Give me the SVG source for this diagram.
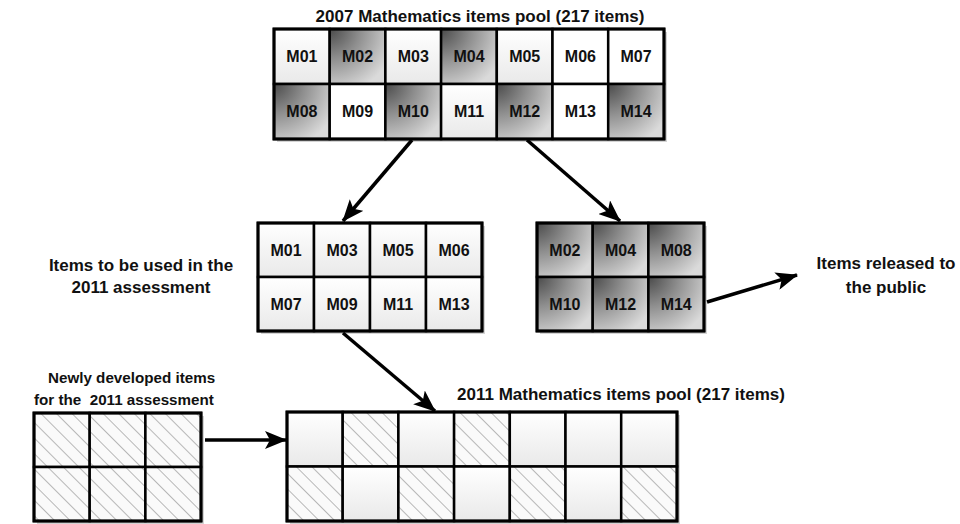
<svg xmlns="http://www.w3.org/2000/svg" width="960" height="524" viewBox="0 0 960 524">
  <style>
    .lbl { font-family: "Liberation Sans", Arial, sans-serif; font-weight: bold; font-size: 17px; fill: #111; }
    .lbl-sm { font-family: "Liberation Sans", Arial, sans-serif; font-weight: bold; font-size: 15.2px; fill: #111; }
    .cell-txt { font-family: "Liberation Sans", Arial, sans-serif; font-weight: bold; font-size: 16px; fill: #111; text-anchor: middle; }
    .cell { stroke: #000; stroke-width: 2.5; }
    .frame { fill: none; stroke: #000; stroke-width: 3; }
    .shadow { fill: #d4d4d4; }
    .light { fill: url(#gLight); }
    .white { fill: #fff; }
    .dark { fill: url(#gDark); }
    .hatch { fill: url(#pHatch); }
    .conn { stroke: #000; stroke-width: 3.5; fill: none; marker-end: url(#arrow); }
  </style>
  <defs>
    <linearGradient id="gLight" x1="0" y1="0" x2="0" y2="1">
      <stop offset="0" stop-color="#ffffff"/>
      <stop offset="1" stop-color="#e9e9e9"/>
    </linearGradient>
    <radialGradient id="gDark" cx="0" cy="0" r="1.2" fx="0" fy="0">
      <stop offset="0" stop-color="#4a4a4a"/>
      <stop offset="0.45" stop-color="#8e8e8e"/>
      <stop offset="1" stop-color="#dadada"/>
    </radialGradient>
    <pattern id="pHatch" width="11" height="11" patternUnits="userSpaceOnUse" patternTransform="rotate(-45)">
      <rect width="11" height="11" fill="#fafafa"/>
      <line x1="0" y1="0" x2="0" y2="11" stroke="#9a9a9a" stroke-width="1.4"/>
    </pattern>
    <marker id="arrow" markerUnits="userSpaceOnUse" markerWidth="22" markerHeight="18" viewBox="0 0 22 18" refX="21" refY="9" orient="auto">
      <path d="M0,0 L22,9 L0,18 L5,9 Z" fill="#000"/>
    </marker>
  </defs>

  <rect width="960" height="524" fill="#fff"/>

  <!-- 2007 item pool -->
  <g id="pool2007">
    <rect class="shadow" x="277" y="32" width="390" height="110"/>
    <rect class="cell light" x="274" y="29" width="55.7" height="55"/>
    <rect class="cell dark" x="329.7" y="29" width="55.7" height="55"/>
    <rect class="cell light" x="385.4" y="29" width="55.7" height="55"/>
    <rect class="cell dark" x="441.1" y="29" width="55.7" height="55"/>
    <rect class="cell light" x="496.8" y="29" width="55.7" height="55"/>
    <rect class="cell white" x="552.5" y="29" width="55.7" height="55"/>
    <rect class="cell white" x="608.2" y="29" width="55.8" height="55"/>
    <rect class="cell dark" x="274" y="84" width="55.7" height="55"/>
    <rect class="cell white" x="329.7" y="84" width="55.7" height="55"/>
    <rect class="cell dark" x="385.4" y="84" width="55.7" height="55"/>
    <rect class="cell light" x="441.1" y="84" width="55.7" height="55"/>
    <rect class="cell dark" x="496.8" y="84" width="55.7" height="55"/>
    <rect class="cell white" x="552.5" y="84" width="55.7" height="55"/>
    <rect class="cell dark" x="608.2" y="84" width="55.8" height="55"/>
    <rect class="frame" x="274" y="29" width="390" height="110"/>
    <text class="cell-txt" x="301.9" y="62">M01</text>
    <text class="cell-txt" x="357.6" y="62">M02</text>
    <text class="cell-txt" x="413.3" y="62">M03</text>
    <text class="cell-txt" x="469" y="62">M04</text>
    <text class="cell-txt" x="524.7" y="62">M05</text>
    <text class="cell-txt" x="580.4" y="62">M06</text>
    <text class="cell-txt" x="636.1" y="62">M07</text>
    <text class="cell-txt" x="301.9" y="117">M08</text>
    <text class="cell-txt" x="357.6" y="117">M09</text>
    <text class="cell-txt" x="413.3" y="117">M10</text>
    <text class="cell-txt" x="469" y="117">M11</text>
    <text class="cell-txt" x="524.7" y="117">M12</text>
    <text class="cell-txt" x="580.4" y="117">M13</text>
    <text class="cell-txt" x="636.1" y="117">M14</text>
  </g>
  <g id="title2007">
    <text class="lbl" x="480" y="22" text-anchor="middle">2007 Mathematics items pool (217 items)</text>
  </g>

  <!-- items kept for 2011 -->
  <g id="kept">
    <rect class="shadow" x="261" y="226" width="224" height="108"/>
    <rect class="cell light" x="258" y="223" width="56" height="54"/>
    <rect class="cell light" x="314" y="223" width="56" height="54"/>
    <rect class="cell light" x="370" y="223" width="56" height="54"/>
    <rect class="cell light" x="426" y="223" width="56" height="54"/>
    <rect class="cell light" x="258" y="277" width="56" height="54"/>
    <rect class="cell light" x="314" y="277" width="56" height="54"/>
    <rect class="cell light" x="370" y="277" width="56" height="54"/>
    <rect class="cell light" x="426" y="277" width="56" height="54"/>
    <rect class="frame" x="258" y="223" width="224" height="108"/>
    <text class="cell-txt" x="286" y="255.5">M01</text>
    <text class="cell-txt" x="342" y="255.5">M03</text>
    <text class="cell-txt" x="398" y="255.5">M05</text>
    <text class="cell-txt" x="454" y="255.5">M06</text>
    <text class="cell-txt" x="286" y="309.5">M07</text>
    <text class="cell-txt" x="342" y="309.5">M09</text>
    <text class="cell-txt" x="398" y="309.5">M11</text>
    <text class="cell-txt" x="454" y="309.5">M13</text>
  </g>
  <g id="keptLabel">
    <text class="lbl" x="141" y="271" text-anchor="middle">Items to be used in the</text>
    <text class="lbl" x="141" y="293" text-anchor="middle">2011 assessment</text>
  </g>

  <!-- released items -->
  <g id="released">
    <rect class="shadow" x="540" y="226" width="167" height="108"/>
    <rect class="cell dark" x="537" y="223" width="55.7" height="54"/>
    <rect class="cell dark" x="592.7" y="223" width="55.7" height="54"/>
    <rect class="cell dark" x="648.4" y="223" width="55.6" height="54"/>
    <rect class="cell dark" x="537" y="277" width="55.7" height="54"/>
    <rect class="cell dark" x="592.7" y="277" width="55.7" height="54"/>
    <rect class="cell dark" x="648.4" y="277" width="55.6" height="54"/>
    <rect class="frame" x="537" y="223" width="167" height="108"/>
    <text class="cell-txt" x="564.9" y="255.5">M02</text>
    <text class="cell-txt" x="620.6" y="255.5">M04</text>
    <text class="cell-txt" x="676.2" y="255.5">M08</text>
    <text class="cell-txt" x="564.9" y="309.5">M10</text>
    <text class="cell-txt" x="620.6" y="309.5">M12</text>
    <text class="cell-txt" x="676.2" y="309.5">M14</text>
  </g>
  <g id="releasedLabel">
    <text class="lbl" x="886" y="269" text-anchor="middle">Items released to</text>
    <text class="lbl" x="886" y="293" text-anchor="middle">the public</text>
  </g>

  <!-- newly developed items -->
  <g id="newItems">
    <rect class="shadow" x="37" y="416" width="167" height="108"/>
    <rect class="cell hatch" x="34" y="413" width="55.7" height="54"/>
    <rect class="cell hatch" x="89.7" y="413" width="55.7" height="54"/>
    <rect class="cell hatch" x="145.4" y="413" width="55.6" height="54"/>
    <rect class="cell hatch" x="34" y="467" width="55.7" height="54"/>
    <rect class="cell hatch" x="89.7" y="467" width="55.7" height="54"/>
    <rect class="cell hatch" x="145.4" y="467" width="55.6" height="54"/>
    <rect class="frame" x="34" y="413" width="167" height="108"/>
  </g>
  <g id="newItemsLabel">
    <text class="lbl-sm" x="48" y="383">Newly developed items</text>
    <text class="lbl-sm" x="34" y="405" xml:space="preserve">for the  2011 assessment</text>
  </g>

  <!-- 2011 item pool -->
  <g id="pool2011">
    <rect class="shadow" x="290" y="415" width="390" height="109"/>
    <rect class="cell light" x="287" y="412" width="55.7" height="54.5"/>
    <rect class="cell hatch" x="342.7" y="412" width="55.7" height="54.5"/>
    <rect class="cell light" x="398.4" y="412" width="55.7" height="54.5"/>
    <rect class="cell hatch" x="454.1" y="412" width="55.7" height="54.5"/>
    <rect class="cell light" x="509.8" y="412" width="55.7" height="54.5"/>
    <rect class="cell light" x="565.5" y="412" width="55.7" height="54.5"/>
    <rect class="cell light" x="621.2" y="412" width="55.8" height="54.5"/>
    <rect class="cell hatch" x="287" y="466.5" width="55.7" height="54.5"/>
    <rect class="cell light" x="342.7" y="466.5" width="55.7" height="54.5"/>
    <rect class="cell hatch" x="398.4" y="466.5" width="55.7" height="54.5"/>
    <rect class="cell light" x="454.1" y="466.5" width="55.7" height="54.5"/>
    <rect class="cell hatch" x="509.8" y="466.5" width="55.7" height="54.5"/>
    <rect class="cell light" x="565.5" y="466.5" width="55.7" height="54.5"/>
    <rect class="cell hatch" x="621.2" y="466.5" width="55.8" height="54.5"/>
    <rect class="frame" x="287" y="412" width="390" height="109"/>
  </g>
  <g id="title2011">
    <text class="lbl" x="621" y="400" text-anchor="middle">2011 Mathematics items pool (217 items)</text>
  </g>

  <!-- connectors -->
  <g id="connectors">
    <path class="conn" d="M412,140 L343,221"/>
    <path class="conn" d="M527,140 L620,221"/>
    <path class="conn" d="M343,333 L435,411"/>
    <path class="conn" d="M205,440 L286,440"/>
    <path class="conn" d="M707,302 L797,275"/>
  </g>
</svg>
